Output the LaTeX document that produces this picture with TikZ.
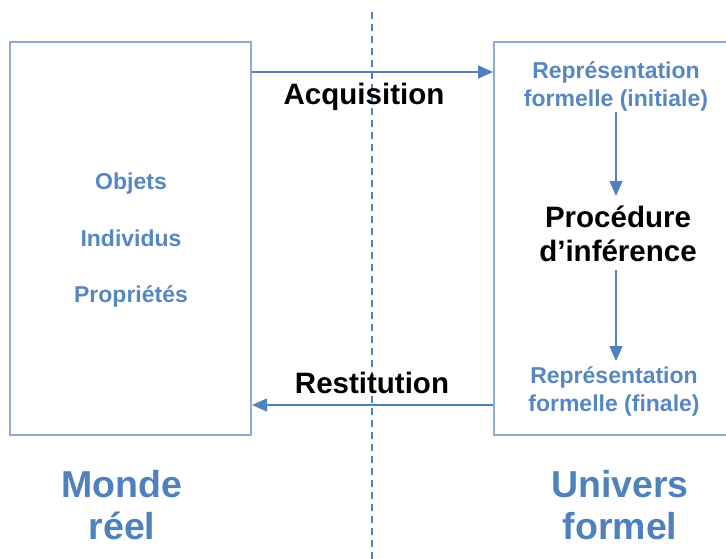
\documentclass[tikz,border=0pt]{standalone}
\usepackage{fontspec}
\setmainfont{Liberation Sans}
\usetikzlibrary{arrows.meta}
\definecolor{officeblue}{HTML}{4F81BD}
\definecolor{boxblue}{HTML}{8EAAD6}
\definecolor{textblue}{HTML}{5787C2}
\begin{document}
\begin{tikzpicture}[x=1pt,y=-1pt,
  world/.style={draw=boxblue, line width=2.2pt, minimum width=241pt, minimum height=393pt, inner sep=0pt},
  flow/.style={draw=officeblue, line width=1.6pt, -{Triangle[length=15pt,width=13pt]}},
  small/.style={text=textblue, font=\bfseries\fontsize{23}{28}\selectfont, align=center, inner sep=0pt},
  step label/.style={text=black, font=\bfseries\fontsize{29.5}{34}\selectfont, align=center, inner sep=0pt},
  title/.style={text=officeblue, font=\bfseries\fontsize{37.5}{42}\selectfont, align=center, inner sep=0pt}]
\useasboundingbox (0,0) rectangle (726,558);
\clip (0,0) rectangle (726,558);

% separation between the two worlds
\draw[officeblue, line width=1.5pt, dash pattern=on 7pt off 5pt] (372,12) coordinate (sepTop) -- (372,560) coordinate (sepBottom);

% boxes
\node[world] (lbox) at (130.5,238.5) {};
\node[world, minimum width=260pt, anchor=west] (rbox) at (493,238.5) {};

% left box contents
\node[small] (objets) at (131,184) {Objets};
\node[small] (individus) at (131,238.5) {Individus};
\node[small] (proprietes) at (131,296) {Propriétés};

% right box contents
\node[small] (rep1) at (616,86) {Représentation\\formelle (initiale)};
\node[step label] (proc) at (618,234) {Procédure\\d’inférence};
\node[small] (rep2) at (614,391) {Représentation\\formelle (finale)};

\coordinate (a1) at (616,112);
\coordinate (a2) at (616,196);
\coordinate (b1) at (616,270);
\coordinate (b2) at (616,361);
\draw[flow] (a1) -- (a2);
\draw[flow] (b1) -- (b2);

% exchanges between the worlds
\draw[flow] (lbox.east |- 0,72) -- (rbox.west |- 0,72);
\draw[flow] (rbox.west |- 0,405) -- (lbox.east |- 0,405);
\node[step label] (acq) at (364,97) {Acquisition};
\node[step label] (rest) at (372,383) {Restitution};

% titles
\node[title] (monde) at (122,505) {Monde\\réel};
\node[title] (univers) at (620,505) {Univers\\formel};
\end{tikzpicture}
\end{document}
